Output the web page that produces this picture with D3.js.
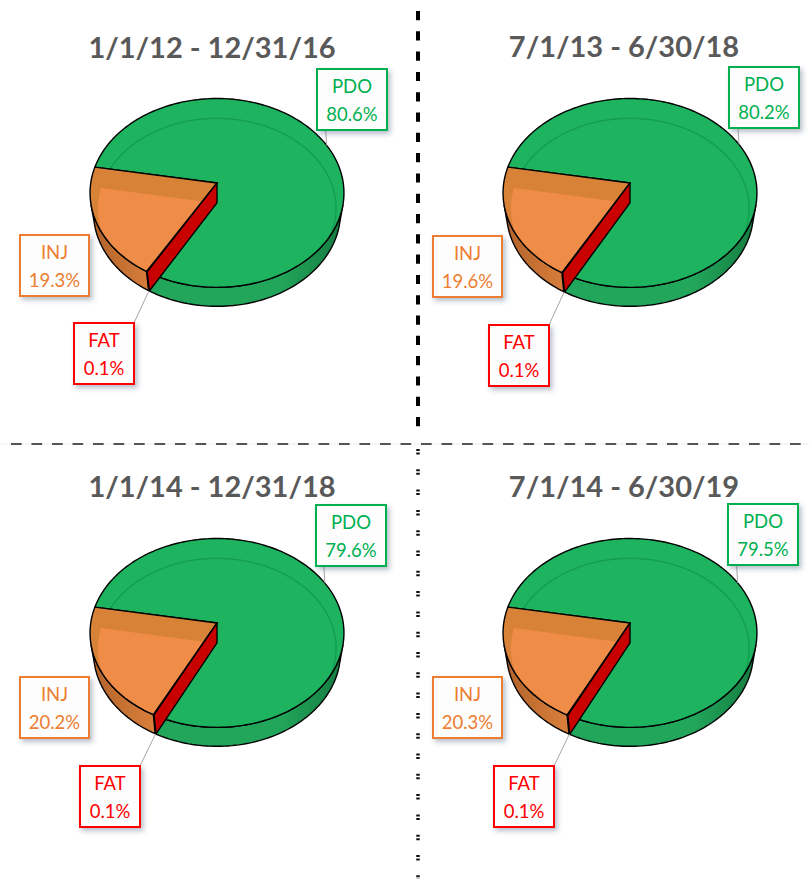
<!DOCTYPE html>
<html><head><meta charset="utf-8">
<script src="https://cdn.jsdelivr.net/npm/d3@7"></script>
<style>body{margin:0;background:#fff}</style>
</head><body>
<svg id="chart" width="809" height="879"></svg>
<script>
// ---- data ----
const titles = ["1/1/12 - 12/31/16", "7/1/13 - 6/30/18", "1/1/14 - 12/31/18", "7/1/14 - 6/30/19"];
const categories = ["PDO", "FAT", "INJ"];
const pdoValues = [80.6, 80.2, 79.6, 79.5];
const fatValues = [0.1, 0.1, 0.1, 0.1];
const injValues = [19.3, 19.6, 20.2, 20.3];

// ---- layout ----
const pieCenters = [[217, 183], [630, 183], [217, 623], [630, 623]];
const titlePos = [[212, 58], [624, 57], [212, 497], [624, 497]];
const boxes = [
  {PDO: [317, 69, 70, 61], INJ: [20, 235, 69, 61], FAT: [74, 323, 60, 61]},
  {PDO: [729, 67, 70, 61], INJ: [433, 236, 69, 61], FAT: [489, 325, 60, 61]},
  {PDO: [316, 505, 70, 61], INJ: [20, 677, 69, 61], FAT: [80, 766, 60, 61]},
  {PDO: [728, 504, 70, 61], INJ: [433, 677, 69, 61], FAT: [494, 766, 60, 61]}
];
const style = {
  PDO: {top: "#1DB35F", text: "#00B050", side0: "#22A65B", side1: "#157A40"},
  INJ: {top: "#EE8C48", rim: "#D88238", text: "#ED7D31", side0: "#B0622A", side1: "#E2853F"},
  FAT: {top: "#C80000", text: "#FF0000", side0: "#C00000", side1: "#C00000"}
};

// ---- projection (3D pie) ----
const ELEV = 47.7 * Math.PI / 180, S = Math.sin(ELEV), C = Math.cos(ELEV);
const DIST = 6.4, FOC = 808, DEPTH = 0.24, RECESS = 0.2, RIMW = 0.04;
const TAU = 2 * Math.PI;
function proj(cx, cy, x, y, z) {
  const zc = DIST - y * S - z * C;
  const ys = y * C - z * S;
  return [cx + x * FOC / zc, cy - ys * FOC / zc];
}
function arcPts(cx, cy, a, b, r, y) {
  const n = Math.max(2, Math.ceil(Math.abs(b - a) / (Math.PI / 120)));
  return d3.range(n + 1).map(k => {
    const f = a + (b - a) * k / n;
    return proj(cx, cy, r * Math.cos(f), y, r * Math.sin(f));
  });
}
const visLo = Math.asin(1 / (DIST * C)), visHi = Math.PI - visLo;
function visibleIntervals(a, b) {
  const out = [];
  for (let k = -1; k <= 2; k++) {
    const lo = visLo + TAU * k, hi = visHi + TAU * k;
    const s = Math.max(a, lo), e = Math.min(b, hi);
    if (e > s) out.push([s, e]);
  }
  return out;
}

const svg = d3.select("#chart");
const defs = svg.append("defs");
const flt = defs.append("filter").attr("id", "shadow")
  .attr("x", "-30%").attr("y", "-30%").attr("width", "170%").attr("height", "170%");
flt.append("feDropShadow").attr("dx", 2.5).attr("dy", 3).attr("stdDeviation", 2.5)
  .attr("flood-color", "#34466A").attr("flood-opacity", 0.35);

// ---- dividers ----
svg.append("line").attr("x1", 0).attr("x2", 809).attr("y1", 444).attr("y2", 444)
  .attr("stroke", "#ececec").attr("stroke-width", 1);
svg.append("line").attr("x1", 11).attr("x2", 809).attr("y1", 444).attr("y2", 444)
  .attr("stroke", "#555").attr("stroke-width", 2).attr("stroke-dasharray", "10.7,9.8");
svg.append("line").attr("x1", 418).attr("x2", 418).attr("y1", 11).attr("y2", 430)
  .attr("stroke", "#000").attr("stroke-width", 4).attr("stroke-dasharray", "9.2,11.1");
svg.append("line").attr("x1", 418).attr("x2", 418).attr("y1", 449).attr("y2", 879)
  .attr("stroke", "#111").attr("stroke-width", 3.5).attr("stroke-dasharray", "2,1.5,2,14.8");

const START = 280 * Math.PI / 180;
const pie = d3.pie().sort(null).value(d => d.value).startAngle(START).endAngle(START + TAU);
const phiOf = th => th + 1.5 * Math.PI;
const line = d3.line();
const poly = pts => line(pts) + "Z";

titles.forEach((title, i) => {
  const [cx, cy] = pieCenters[i];
  const g = svg.append("g");
  const data = [
    {key: categories[0], value: pdoValues[i]},
    {key: categories[1], value: fatValues[i]},
    {key: categories[2], value: injValues[i]}
  ];
  const arcs = pie(data).map(d => ({key: d.data.key, value: d.data.value, a: phiOf(d.startAngle), b: phiOf(d.endAngle)}));
  const byKey = {};
  arcs.forEach(d => byKey[d.key] = d);

  // gradients for sides
  arcs.forEach(d => {
    const gr = defs.append("linearGradient").attr("id", `side-${d.key}-${i}`)
      .attr("gradientUnits", "userSpaceOnUse")
      .attr("x1", cx - 127).attr("x2", cx + 127).attr("y1", 0).attr("y2", 0);
    gr.append("stop").attr("offset", 0).attr("stop-color", style[d.key].side0);
    if (d.key === "INJ") {
      gr.append("stop").attr("offset", 0.3).attr("stop-color", style[d.key].side1);
    } else {
      gr.append("stop").attr("offset", 0.75).attr("stop-color", style[d.key].side0);
    }
    gr.append("stop").attr("offset", 1).attr("stop-color", style[d.key].side1);
  });

  // sides
  arcs.forEach(d => {
    visibleIntervals(d.a, d.b).forEach(([s, e]) => {
      const pts = arcPts(cx, cy, s, e, 1, 0).concat(arcPts(cx, cy, e, s, 1, -DEPTH));
      g.append("path").attr("d", poly(pts))
        .attr("fill", `url(#side-${d.key}-${i})`)
        .attr("stroke", "#000").attr("stroke-width", 1.4).attr("stroke-linejoin", "round");
    });
  });

  // top faces
  arcs.forEach(d => {
    const pts = [proj(cx, cy, 0, 0, 0)].concat(arcPts(cx, cy, d.a, d.b, 1, 0));
    const cid = `clip-${d.key}-${i}`;
    defs.append("clipPath").attr("id", cid).append("path").attr("d", poly(pts));
    const st = style[d.key];
    g.append("path").attr("d", poly(pts)).attr("fill", st.rim || st.top);
    if (d.key === "INJ") {
      const m = (d.a + d.b) / 2, half = (d.b - d.a) / 2;
      const dd = RIMW / Math.sin(half);
      const ri = 1 - RIMW;
      const inner = [proj(cx, cy, dd * Math.cos(m), -RECESS, dd * Math.sin(m))]
        .concat(arcPts(cx, cy, d.a + RIMW / ri, d.b - RIMW / ri, ri, -RECESS));
      g.append("path").attr("d", poly(inner)).attr("fill", st.top).attr("clip-path", `url(#${cid})`);
    }
    if (d.key === "PDO") {
      const ri = 1 - RIMW;
      const a0 = d.a % TAU;
      const ring = arcPts(cx, cy, a0 + RIMW / ri, TAU + 22 * Math.PI / 180, ri, -RECESS);
      g.append("path").attr("d", line(ring)).attr("fill", "none")
        .attr("stroke", "#0C8E45").attr("stroke-width", 1.3).attr("stroke-opacity", 0.6)
        .attr("clip-path", `url(#${cid})`);
    }
    g.append("path").attr("d", poly(pts)).attr("fill", "none")
      .attr("stroke", "#000").attr("stroke-width", 1.4).attr("stroke-linejoin", "round");
  });

  // FAT wall
  const fat = byKey.FAT;
  const fa = fat.a;
  const wall = [proj(cx, cy, 0, 0, 0), proj(cx, cy, Math.cos(fa), 0, Math.sin(fa)),
                proj(cx, cy, Math.cos(fa), -DEPTH, Math.sin(fa)), proj(cx, cy, 0, -DEPTH, 0)];
  g.append("path").attr("d", poly(wall)).attr("fill", style.FAT.top)
    .attr("stroke", "#000").attr("stroke-width", 1.4).attr("stroke-linejoin", "round");

  // title
  svg.append("text").attr("x", titlePos[i][0]).attr("y", titlePos[i][1])
    .attr("text-anchor", "middle").attr("font-family", "Lato, 'Open Sans', sans-serif")
    .attr("font-weight", "bold").attr("font-size", 29).attr("fill", "#595959").text(title);

  // leader lines
  const pdo = byKey.PDO;
  const pm = (pdo.a + pdo.b) / 2;
  const pA = proj(cx, cy, Math.cos(pm), 0, Math.sin(pm));
  const pb = boxes[i].PDO;
  svg.append("line").attr("x1", pA[0] - 1).attr("y1", pb[1] + pb[3]).attr("x2", pA[0]).attr("y2", pA[1])
    .attr("stroke", "#A6A6A6").attr("stroke-width", 1);
  const fm = (fat.a + fat.b) / 2;
  const fA = proj(cx, cy, Math.cos(fm), -DEPTH, Math.sin(fm));
  const fb = boxes[i].FAT;
  svg.append("line").attr("x1", fb[0] + fb[2]).attr("y1", fb[1]).attr("x2", fA[0]).attr("y2", fA[1])
    .attr("stroke", "#A6A6A6").attr("stroke-width", 1);

  // label boxes
  ["PDO", "INJ", "FAT"].forEach(k => {
    const [bx, by, bw, bh] = boxes[i][k];
    const d = byKey[k];
    const lg = svg.append("g");
    lg.append("rect").attr("x", bx).attr("y", by).attr("width", bw).attr("height", bh)
      .attr("fill", "#FDFDFD").attr("stroke", style[k].text).attr("stroke-width", 2)
      .attr("filter", "url(#shadow)");
    lg.append("text").attr("x", bx + bw / 2).attr("y", by + 24).attr("text-anchor", "middle")
      .attr("font-family", "Lato, 'Open Sans', sans-serif").attr("font-size", 18.5)
      .attr("fill", style[k].text).text(k);
    lg.append("text").attr("x", bx + bw / 2).attr("y", by + 52).attr("text-anchor", "middle")
      .attr("font-family", "Lato, 'Open Sans', sans-serif").attr("font-size", 18.5)
      .attr("fill", style[k].text).text(d.value.toFixed(1) + "%");
  });
});
</script>
</body></html>
